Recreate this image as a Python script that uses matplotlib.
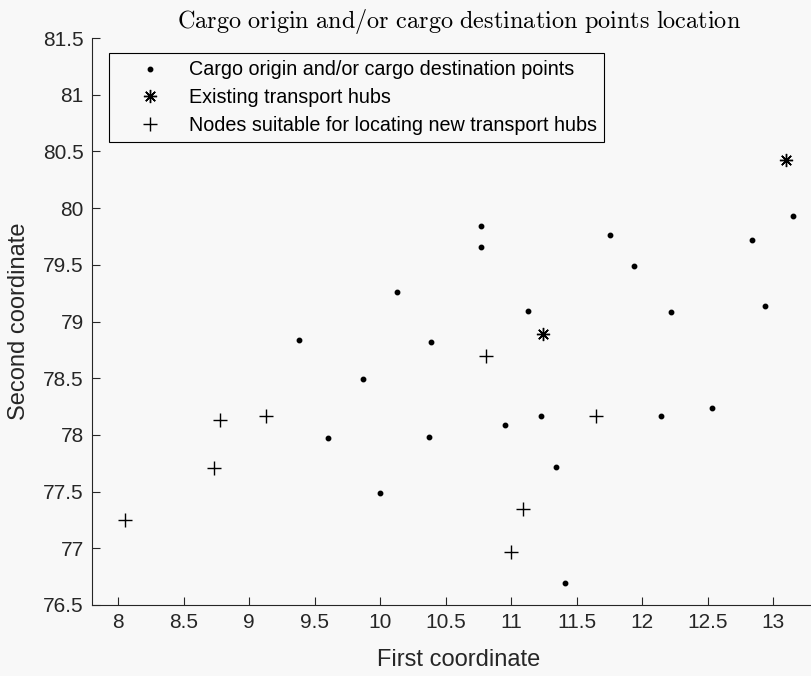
import numpy as np
import matplotlib
matplotlib.use('Agg')
import matplotlib.pyplot as plt

plt.rcParams['font.family'] = ['Liberation Sans', 'DejaVu Sans']
plt.rcParams['mathtext.fontset'] = 'cm'

# cargo origin / destination points
cargo_x = [9.38, 9.87, 10.13, 9.60, 10.00, 10.77, 10.77, 10.39, 10.37, 11.13, 10.95,
           11.75, 11.94, 12.22, 12.84, 13.15, 12.94, 11.23, 12.14, 12.53, 11.34, 11.41]
cargo_y = [78.84, 78.49, 79.26, 77.97, 77.49, 79.84, 79.66, 78.82, 77.98, 79.09, 78.09,
           79.76, 79.49, 79.08, 79.72, 79.93, 79.14, 78.17, 78.17, 78.24, 77.72, 76.69]

# existing hubs
hub_x = [11.24, 13.10]
hub_y = [78.89, 80.42]

# candidate nodes for new hubs
node_x = [8.05, 8.73, 8.78, 9.13, 10.81, 11.00, 11.09, 11.65]
node_y = [77.25, 77.71, 78.13, 78.17, 78.70, 76.97, 77.35, 78.17]

xticks = np.arange(8, 13.01, 0.5)
yticks = np.arange(76.5, 81.51, 0.5)

bg = '#f8f8f8'
axc = '#262626'

fig = plt.figure(figsize=(8.12, 6.76), dpi=100, facecolor=bg)
ax = fig.add_axes([92 / 812, 71 / 676, 733.7 / 812, 567 / 676], facecolor=bg)

ax.plot(cargo_x, cargo_y, 'o', color='k', ms=3.2, ls='none',
        label='Cargo origin and/or cargo destination points')
ax.plot(hub_x, hub_y, ls='none', marker=(8, 2, 0), color='k', ms=9.5, mew=1.0,
        label='Existing transport hubs')
ax.plot(node_x, node_y, '+', color='k', ms=9.5, mew=1.0, ls='none',
        label='Nodes suitable for locating new transport hubs')

ax.set_xlim(7.8, 13.4)
ax.set_ylim(76.5, 81.5)
ax.set_xticks(xticks)
ax.set_yticks(yticks)
ax.set_xticklabels([f'{v:g}' for v in xticks])
ax.set_yticklabels([f'{v:g}' for v in yticks])

for s in ['top', 'right']:
    ax.spines[s].set_visible(False)
for s in ['left', 'bottom']:
    ax.spines[s].set_color(axc)
    ax.spines[s].set_linewidth(0.8)
ax.tick_params(direction='in', length=5.5, width=0.8, colors=axc, labelsize=15, pad=6)

ax.set_xlabel('First coordinate', fontsize=17, color=axc, labelpad=12)
ax.set_ylabel('Second coordinate', fontsize=17, color=axc, labelpad=9)
ax.set_title(r'$\mathrm{Cargo\ origin\ and/or\ cargo\ destination\ points\ location}$',
             fontsize=17.5, color='k', pad=7)

leg = ax.legend(loc='upper left', bbox_to_anchor=(0.0232, 0.973), borderaxespad=0,
                fontsize=14.25, frameon=True, fancybox=False, framealpha=1,
                handlelength=3.4, handletextpad=0.28, borderpad=0.36, labelspacing=0.45)
leg.get_frame().set_edgecolor('k')
leg.get_frame().set_facecolor(bg)
leg.get_frame().set_linewidth(0.8)

fig.savefig('out.png', dpi=100, facecolor=bg)
